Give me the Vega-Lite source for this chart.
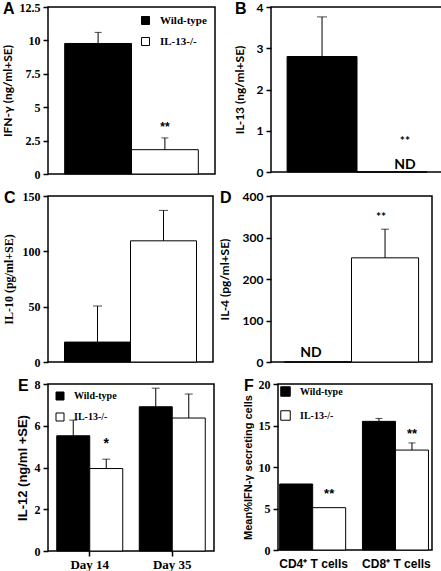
{
  "$schema": "https://vega.github.io/schema/vega-lite/v6.json",
  "background": "white",
  "padding": {"left": 0, "top": 0, "right": 0, "bottom": 0},
  "config": {
    "view": {"stroke": "black", "strokeWidth": 1.5},
    "axis": {"grid": false, "domain": false, "tickColor": "black", "tickSize": 5, "tickWidth": 1.5, "labelColor": "black", "titleColor": "black", "labelFontWeight": "bold", "titleFontWeight": "bold", "labelPadding": 3, "titlePadding": 5, "labelOverlap": false, "labelBound": false, "labelFlush": false},
    "title": {"fontSize": 16, "font": "Liberation Sans", "fontWeight": "bold", "anchor": "start", "frame": "bounds", "color": "black", "offset": -16, "dx": 2},
    "legend": {"title": null, "symbolType": "square", "symbolSize": 64, "symbolStrokeColor": "black", "symbolStrokeWidth": 1, "labelFont": "Liberation Serif", "labelFontWeight": "bold", "labelColor": "black", "labelFontSize": 11, "rowPadding": 8, "labelOffset": 9},
    "bar": {"stroke": "black", "strokeWidth": 1},
    "rule": {"color": "black", "strokeWidth": 1},
    "tick": {"color": "black", "thickness": 1},
    "text": {"color": "black", "fill": "black"}
  },
  "resolve": {"scale": {"fill": "independent"}, "legend": {"fill": "independent"}},
  "spacing": 8,
  "vconcat": [
    {
      "bounds": "flush",
      "spacing": 56,
      "resolve": {"scale": {"fill": "independent"}, "legend": {"fill": "independent"}},
      "hconcat": [
        {
          "width": 167, "height": 167,
          "title": {"text": "A"},
          "data": {"values": [
            {"group": "Wild-type", "value": 9.77, "err": 10.6},
            {"group": "IL-13-/-", "value": 1.82, "err": 2.7, "sig": "**", "sigY": 3.5}
          ]},
          "encoding": {"x": {"field": "group", "type": "nominal", "sort": ["Wild-type", "IL-13-/-"], "scale": {"paddingInner": 0, "paddingOuter": 0.25}, "axis": null}},
          "layer": [
            {"mark": "bar", "encoding": {
              "y": {"field": "value", "type": "quantitative", "scale": {"domain": [0, 12.5], "nice": false}, "axis": {"values": [0, 2.5, 5, 7.5, 10, 12.5], "format": ".3~g", "title": "IFN-γ (ng/ml+SE)", "labelFont": "Liberation Serif", "labelFontSize": 12, "titleFont": "Lato", "titleFontSize": 12}},
              "fill": {"field": "group", "type": "nominal", "scale": {"domain": ["Wild-type", "IL-13-/-"], "range": ["black", "white"]}, "legend": {"orient": "top-right", "offset": 8}}
            }},
            {"transform": [{"filter": "datum.err != null"}], "mark": "rule", "encoding": {"y": {"field": "value", "type": "quantitative", "axis": {"values": [0, 2.5, 5, 7.5, 10, 12.5], "format": ".3~g", "title": "IFN-γ (ng/ml+SE)", "labelFont": "Liberation Serif", "labelFontSize": 12, "titleFont": "Lato", "titleFontSize": 12}}, "y2": {"field": "err"}}},
            {"transform": [{"filter": "datum.err != null"}], "mark": {"type": "tick", "size": 7}, "encoding": {"y": {"field": "err", "type": "quantitative", "axis": {"values": [0, 2.5, 5, 7.5, 10, 12.5], "format": ".3~g", "title": "IFN-γ (ng/ml+SE)", "labelFont": "Liberation Serif", "labelFontSize": 12, "titleFont": "Lato", "titleFontSize": 12}}}},
            {"transform": [{"filter": "datum.sig != null"}], "mark": {"type": "text", "color": "black", "font": "Liberation Sans", "fontWeight": "bold", "fontSize": 12}, "encoding": {"y": {"field": "sigY", "type": "quantitative", "axis": {"values": [0, 2.5, 5, 7.5, 10, 12.5], "format": ".3~g", "title": "IFN-γ (ng/ml+SE)", "labelFont": "Liberation Serif", "labelFontSize": 12, "titleFont": "Lato", "titleFontSize": 12}}, "text": {"field": "sig"}}}
          ]
        },
        {
          "width": 172, "height": 165,
          "title": {"text": "B"},
          "data": {"values": [
            {"group": "Wild-type", "value": 2.8, "err": 3.76},
            {"group": "IL-13-/-", "value": 0}
          ]},
          "encoding": {"x": {"field": "group", "type": "nominal", "sort": ["Wild-type", "IL-13-/-"], "scale": {"paddingInner": 0, "paddingOuter": 0.23}, "axis": null}},
          "layer": [
            {"mark": "bar", "encoding": {
              "y": {"field": "value", "type": "quantitative", "scale": {"domain": [0, 4], "nice": false}, "axis": {"values": [0, 1, 2, 3, 4], "title": "IL-13 (ng/ml+SE)", "labelFont": "Lato", "labelFontSize": 12, "titleFont": "Lato", "titleFontSize": 12, "titlePadding": 10}},
              "fill": {"condition": {"test": "datum.group === 'Wild-type'", "value": "black"}, "value": "white"}
            }},
            {"transform": [{"filter": "datum.err != null"}], "mark": "rule", "encoding": {"y": {"field": "value", "type": "quantitative"}, "y2": {"field": "err"}}},
            {"transform": [{"filter": "datum.err != null"}], "mark": {"type": "tick", "size": 10}, "encoding": {"y": {"field": "err", "type": "quantitative"}}},
            {"data": {"values": [{"group": "IL-13-/-", "y": 0.75, "label": "**"}]}, "mark": {"type": "text", "color": "black", "font": "Lato", "fontWeight": "bold", "fontSize": 12, "dx": 13}, "encoding": {"y": {"field": "y", "type": "quantitative"}, "text": {"field": "label"}}},
            {"data": {"values": [{"group": "IL-13-/-", "y": 0.17, "label": "ND"}]}, "mark": {"type": "text", "color": "black", "font": "Lato", "fontWeight": "bold", "fontSize": 14, "dx": 13}, "encoding": {"y": {"field": "y", "type": "quantitative"}, "text": {"field": "label"}}}
          ]
        }
      ]
    },
    {
      "bounds": "flush",
      "spacing": 58,
      "hconcat": [
        {
          "width": 165, "height": 166,
          "title": {"text": "C"},
          "data": {"values": [
            {"group": "Wild-type", "value": 18, "err": 50.6},
            {"group": "IL-13-/-", "value": 109.5, "err": 137}
          ]},
          "encoding": {"x": {"field": "group", "type": "nominal", "sort": ["Wild-type", "IL-13-/-"], "scale": {"paddingInner": 0, "paddingOuter": 0.25}, "axis": null}},
          "layer": [
            {"mark": "bar", "encoding": {
              "y": {"field": "value", "type": "quantitative", "scale": {"domain": [0, 150], "nice": false}, "axis": {"values": [0, 50, 100, 150], "title": "IL-10 (pg/ml+SE)", "labelFont": "Liberation Serif", "labelFontSize": 12, "titleFont": "Liberation Serif", "titleFontSize": 12, "titlePadding": 7}},
              "fill": {"condition": {"test": "datum.group === 'Wild-type'", "value": "black"}, "value": "white"}
            }},
            {"mark": "rule", "encoding": {"y": {"field": "value", "type": "quantitative"}, "y2": {"field": "err"}}},
            {"mark": {"type": "tick", "size": 9}, "encoding": {"y": {"field": "err", "type": "quantitative"}}}
          ]
        },
        {
          "width": 161, "height": 166,
          "title": {"text": "D"},
          "data": {"values": [
            {"group": "Wild-type", "value": 0},
            {"group": "IL-13-/-", "value": 251, "err": 320}
          ]},
          "encoding": {"x": {"field": "group", "type": "nominal", "sort": ["Wild-type", "IL-13-/-"], "scale": {"paddingInner": 0, "paddingOuter": 0.2}, "axis": null}},
          "layer": [
            {"mark": "bar", "encoding": {
              "y": {"field": "value", "type": "quantitative", "scale": {"domain": [0, 400], "nice": false}, "axis": {"values": [0, 100, 200, 300, 400], "title": "IL-4 (pg/ml+SE)", "labelFont": "Lato", "labelFontSize": 12, "titleFont": "Lato", "titleFontSize": 12, "titlePadding": 11}},
              "fill": {"condition": {"test": "datum.group === 'Wild-type'", "value": "black"}, "value": "white"}
            }},
            {"transform": [{"filter": "datum.err != null"}], "mark": "rule", "encoding": {"y": {"field": "value", "type": "quantitative"}, "y2": {"field": "err"}}},
            {"transform": [{"filter": "datum.err != null"}], "mark": {"type": "tick", "size": 8}, "encoding": {"y": {"field": "err", "type": "quantitative"}}},
            {"data": {"values": [{"group": "IL-13-/-", "y": 349, "label": "**"}]}, "mark": {"type": "text", "color": "black", "font": "Lato", "fontWeight": "bold", "fontSize": 12, "dx": -4}, "encoding": {"y": {"field": "y", "type": "quantitative"}, "text": {"field": "label"}}},
            {"data": {"values": [{"group": "Wild-type", "y": 22, "label": "ND"}]}, "mark": {"type": "text", "color": "black", "font": "Lato", "fontWeight": "bold", "fontSize": 14, "dx": -7}, "encoding": {"y": {"field": "y", "type": "quantitative"}, "text": {"field": "label"}}}
          ]
        }
      ]
    },
    {
      "bounds": "flush",
      "spacing": 64,
      "resolve": {"scale": {"fill": "independent"}, "legend": {"fill": "independent"}},
      "hconcat": [
        {
          "width": 166, "height": 167,
          "title": {"text": "E"},
          "data": {"values": [
            {"day": "Day 14", "group": "Wild-type", "value": 5.52, "err": 6.27},
            {"day": "Day 14", "group": "IL-13-/-", "value": 3.95, "err": 4.4, "sig": "*", "sigY": 5.12},
            {"day": "Day 35", "group": "Wild-type", "value": 6.91, "err": 7.8},
            {"day": "Day 35", "group": "IL-13-/-", "value": 6.37, "err": 7.52}
          ]},
          "encoding": {
            "x": {"field": "day", "type": "nominal", "scale": {"paddingInner": 0.2, "paddingOuter": 0.106}, "axis": {"title": null, "labelAngle": 0, "labelFont": "Liberation Serif", "labelFontSize": 13, "labelPadding": 2}},
            "xOffset": {"field": "group", "type": "nominal", "sort": ["Wild-type", "IL-13-/-"], "scale": {"paddingInner": 0, "paddingOuter": 0}}
          },
          "layer": [
            {"mark": "bar", "encoding": {
              "y": {"field": "value", "type": "quantitative", "scale": {"domain": [0, 8], "nice": false}, "axis": {"values": [0, 2, 4, 6, 8], "title": "IL-12 (ng/ml +SE)", "labelFont": "Liberation Serif", "labelFontSize": 12, "titleFont": "Liberation Sans", "titleFontSize": 13}},
              "fill": {"field": "group", "type": "nominal", "scale": {"domain": ["Wild-type", "IL-13-/-"], "range": ["black", "white"]}, "legend": {"orient": "top-left", "offset": 7, "labelFontSize": 10, "symbolSize": 64, "rowPadding": 9}}
            }},
            {"mark": "rule", "encoding": {"y": {"field": "value", "type": "quantitative"}, "y2": {"field": "err"}}},
            {"mark": {"type": "tick", "size": 8}, "encoding": {"y": {"field": "err", "type": "quantitative"}}},
            {"transform": [{"filter": "datum.sig != null"}], "mark": {"type": "text", "color": "black", "font": "Liberation Sans", "fontWeight": "bold", "fontSize": 14}, "encoding": {"y": {"field": "sigY", "type": "quantitative"}, "text": {"field": "sig"}}}
          ]
        },
        {
          "width": 154, "height": 166,
          "title": {"text": "F"},
          "data": {"values": [
            {"cell": "CD4⁺ T cells", "group": "Wild-type", "value": 7.95},
            {"cell": "CD4⁺ T cells", "group": "IL-13-/-", "value": 5.1, "sig": "**", "sigY": 6.7},
            {"cell": "CD8⁺ T cells", "group": "Wild-type", "value": 15.5, "err": 15.85},
            {"cell": "CD8⁺ T cells", "group": "IL-13-/-", "value": 12.04, "err": 12.9, "sig": "**", "sigY": 14.0}
          ]},
          "encoding": {
            "x": {"field": "cell", "type": "nominal", "scale": {"paddingInner": 0.18, "paddingOuter": 0.02}, "axis": {"title": null, "labelAngle": 0, "ticks": false, "labelFont": "Liberation Sans", "labelFontSize": 12, "labelPadding": 8}},
            "xOffset": {"field": "group", "type": "nominal", "sort": ["Wild-type", "IL-13-/-"], "scale": {"paddingInner": 0, "paddingOuter": 0}}
          },
          "layer": [
            {"mark": "bar", "encoding": {
              "y": {"field": "value", "type": "quantitative", "scale": {"domain": [0, 20], "nice": false}, "axis": {"values": [0, 5, 10, 15, 20], "title": "Mean%IFN-γ secreting cells", "labelFont": "Liberation Serif", "labelFontSize": 12, "titleFont": "Liberation Sans", "titleFontSize": 11}},
              "fill": {"field": "group", "type": "nominal", "scale": {"domain": ["Wild-type", "IL-13-/-"], "range": ["black", "white"]}, "legend": {"orient": "top-left", "offset": 2, "labelFontSize": 10, "symbolSize": 90, "rowPadding": 9}}
            }},
            {"transform": [{"filter": "datum.err != null"}], "mark": "rule", "encoding": {"y": {"field": "value", "type": "quantitative"}, "y2": {"field": "err"}}},
            {"transform": [{"filter": "datum.err != null"}], "mark": {"type": "tick", "size": 7}, "encoding": {"y": {"field": "err", "type": "quantitative"}}},
            {"transform": [{"filter": "datum.sig != null"}], "mark": {"type": "text", "color": "black", "font": "Liberation Sans", "fontWeight": "bold", "fontSize": 13}, "encoding": {"y": {"field": "sigY", "type": "quantitative"}, "text": {"field": "sig"}}}
          ]
        }
      ]
    }
  ]
}
